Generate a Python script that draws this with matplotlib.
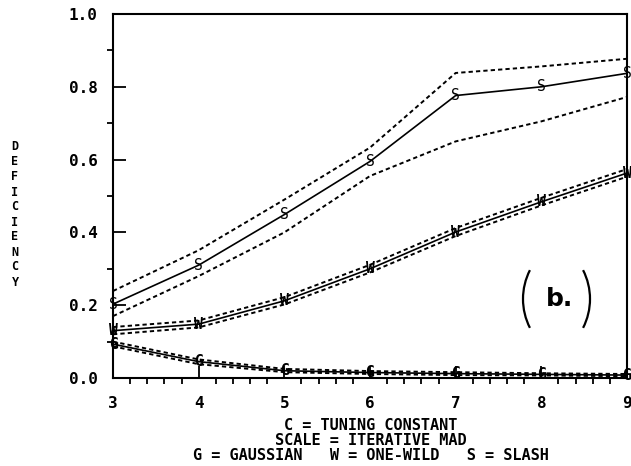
import matplotlib
matplotlib.use("Agg")
import matplotlib.pyplot as plt
from matplotlib.patches import Arc
from matplotlib.ticker import MultipleLocator, FixedLocator

# Tuning constant values
c_values = [3, 4, 5, 6, 7, 8, 9]

# Slash distribution: deficiency and its band
slash = [0.203, 0.31, 0.449, 0.595, 0.776, 0.80, 0.837]
slash_hi = [0.239, 0.351, 0.49, 0.633, 0.838, 0.856, 0.877]
slash_lo = [0.17, 0.28, 0.40, 0.555, 0.65, 0.705, 0.772]

# One-wild distribution
wild = [0.13, 0.148, 0.212, 0.30, 0.401, 0.484, 0.563]
wild_hi = [0.14, 0.158, 0.222, 0.311, 0.412, 0.495, 0.574]
wild_lo = [0.12, 0.139, 0.202, 0.29, 0.39, 0.474, 0.553]

# Gaussian distribution
gauss = [0.093, 0.045, 0.02, 0.015, 0.012, 0.01, 0.008]
gauss_hi = [0.100, 0.051, 0.025, 0.019, 0.016, 0.013, 0.011]
gauss_lo = [0.087, 0.038, 0.016, 0.011, 0.008, 0.007, 0.005]

y_ticks = [0.0, 0.2, 0.4, 0.6, 0.8, 1.0]
x_ticks = [3, 4, 5, 6, 7, 8, 9]

series = [
    ("S", "normal", slash, slash_hi, slash_lo),
    ("W", "bold", wild, wild_hi, wild_lo),
    ("G", "bold", gauss, gauss_hi, gauss_lo),
]

mono = "DejaVu Sans Mono"
W_PX, H_PX = 631, 466

fig = plt.figure(figsize=(6.31, 4.66), dpi=100)
ax = fig.add_axes([113 / W_PX, 1 - 378 / H_PX, 514 / W_PX, 364 / H_PX])

for letter, weight, mid, hi, lo in series:
    ax.plot(c_values, mid, color="black", lw=1.2, solid_capstyle="butt",
            zorder=4)
    for band in (hi, lo):
        ax.plot(c_values, band, color="black", lw=1.4, dashes=(2.2, 1.6),
                zorder=3)
    # plotting symbol: the distribution's letter at each point
    for xv, yv in zip(c_values, mid):
        ax.text(xv, yv, letter, ha="center", va="center", fontsize=10.5,
                family=mono, fontweight=weight, color="black", zorder=5,
                clip_on=False)

ax.set_xlim(3, 9)
ax.set_ylim(0, 1.0)
ax.xaxis.set_major_locator(FixedLocator(x_ticks))
ax.yaxis.set_major_locator(FixedLocator(y_ticks))
ax.xaxis.set_minor_locator(MultipleLocator(0.2))
ax.yaxis.set_minor_locator(MultipleLocator(0.1))
ax.set_xticklabels([str(v) for v in x_ticks])
ax.set_yticklabels([f"{v:.1f}" for v in y_ticks])

ax.tick_params(which="major", direction="in", length=9, width=1.3,
               top=False, right=False)
ax.tick_params(axis="y", which="major", pad=11)
ax.tick_params(axis="x", which="major", pad=13)
ax.tick_params(which="minor", direction="out", length=4.5, width=1.3,
               top=False, right=False)
for lab in ax.get_xticklabels() + ax.get_yticklabels():
    lab.set_family(mono)
    lab.set_fontweight("bold")
    lab.set_fontsize(11.5)

for sp in ax.spines.values():
    sp.set_linewidth(1.5)

# Vertical axis title, one letter per line
ylabel = "DEFICIENCY"
y0, step = 147, 15
for i, ch in enumerate(ylabel):
    fig.text(15 / W_PX, 1 - (y0 + i * step) / H_PX, ch, ha="center",
             va="center", family=mono, fontweight="bold", fontsize=8.5)

# Horizontal axis caption
caption = ["C = TUNING CONSTANT", "SCALE = ITERATIVE MAD",
           "G = GAUSSIAN   W = ONE-WILD   S = SLASH"]
for i, line in enumerate(caption):
    fig.text(371 / W_PX, 1 - (425 + i * 15.5) / H_PX, line, ha="center",
             va="center", family=mono, fontweight="bold", fontsize=11)

# Panel tag "( b. )"
r = 63.6
fig.add_artist(Arc((586.6, H_PX - 299), 2 * r, 2 * r, theta1=153, theta2=207,
                   transform=None, lw=1.6, color="black"))
fig.add_artist(Arc((526.4, H_PX - 299), 2 * r, 2 * r, theta1=-27, theta2=27,
                   transform=None, lw=1.6, color="black"))
fig.text(560 / W_PX, 1 - 299 / H_PX, "b.", ha="center", va="center",
         fontsize=18, fontweight="bold", family="DejaVu Sans")

fig.savefig("out.png", dpi=100)
